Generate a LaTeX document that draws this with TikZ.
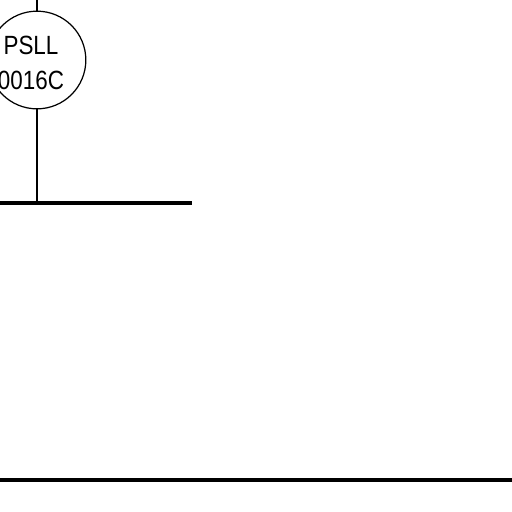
\documentclass[tikz,border=0pt]{standalone}
\usepackage{fontspec}
\setmainfont{Liberation Sans}
\usetikzlibrary{positioning}

\begin{document}
\begin{tikzpicture}[x=0.02cm, y=-0.02cm]
		\useasboundingbox (0,0) rectangle (512,512);
		\tikzset{thin wire/.style={line width=0.7pt}, bus/.style={line width=2pt}}
		\node [draw, thin wire, circle, inner sep=0, minimum size=55.6pt] (psll) at (37,60) {};
		\node [align=center, inner sep=0, xscale=0.85, font=\fontsize{15}{19.8}\selectfont] (tag) at (31,63) {PSLL\\0016C};
		\coordinate (top) at (37,0);
		\coordinate (tap) at (37,203);
		\coordinate (busleft) at (0,203);
		\coordinate (busright) at (192,203);
		\coordinate (lowleft) at (0,480);
		\coordinate (lowright) at (512,480);
		\draw[thin wire] (top) -- (psll.north);
		\draw[thin wire] (psll.south) -- (tap);
		\draw[bus] (busleft) -- (busright);
		\draw[bus] (lowleft) -- (lowright);
	\end{tikzpicture}
\end{document}
